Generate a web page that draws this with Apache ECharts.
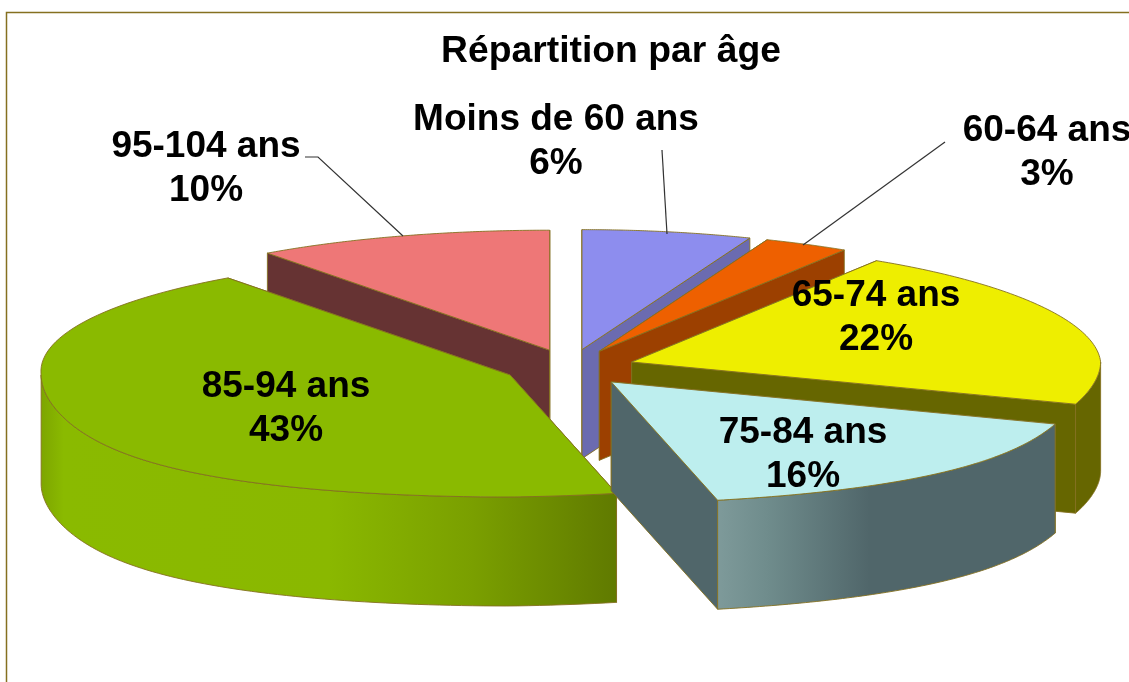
<!DOCTYPE html>
<html>
<head>
<meta charset="utf-8">
<title>Répartition par âge</title>
<script src="https://cdn.jsdelivr.net/npm/echarts@6/dist/echarts.min.js"></script>
<style>
  html, body { margin: 0; padding: 0; background: #fff; overflow: hidden; }
  #main { width: 1129px; height: 682px; }
</style>
</head>
<body>
<div id="main"></div>
<script>
const categories = ["Moins de 60 ans", "60-64 ans", "65-74 ans", "75-84 ans", "85-94 ans", "95-104 ans"];
const shares = [6, 3, 22, 16, 43, 10];

const topColors = ["#8d8dee", "#ee6000", "#eeee00", "#bdeeee", "#8aba00", "#ee7777"];
const wallColors = ["#6b6bb0", "#9c4000", "#666600", "#50666a", "#6f9500", "#663333"];

// only the two big front slices have a shaded rim
const rimStops = {
  3: [[0, "#7e9a9a"], [0.15, "#6f8c8c"], [0.45, "#50666a"], [1, "#50666a"]],
  4: [[0, "#7da500"], [0.04, "#8aba00"], [0.5, "#8ab800"], [0.75, "#7a9f00"], [1, "#607a00"]],
};

// label centres and leader lines, in page pixels
const labelCenters = [[556, 142], [1047, 153], [876, 318], [803, 455], [286, 409], [206, 169]];
const leaders = {
  0: [[662, 150], [667, 234]],
  1: [[945, 142], [803, 245]],
  5: [[305, 157], [318, 157], [403, 236]],
};

// pie geometry
const centerX = 569.8;
const centerY = 367.7;
const radiusX = 469;
const radiusY = 122;
const depth = 109;
const explodeX = 65;
const explodeY = 18.4;
const edgeColor = "#857020";
const fontStack = '"Liberation Sans", Arial, sans-serif';

const total = shares.reduce((a, b) => a + b, 0);

function sliceAngles(index) {
  const before = shares.slice(0, index).reduce((a, b) => a + b, 0);
  return [(before / total) * 2 * Math.PI, ((before + shares[index]) / total) * 2 * Math.PI];
}

// point on the rim, with a rough perspective: front wider, back skewed to the left
function rimPoint(apex, angle, drop) {
  const sin = Math.sin(angle);
  const cos = Math.cos(angle);
  const front = Math.max(-cos, 0);
  const back = Math.max(cos, 0);
  const widen = 1 + 0.22 * Math.pow(front, 2.5);
  return [
    apex[0] + radiusX * widen * sin - 14 * Math.abs(sin) * back,
    apex[1] - radiusY * cos + drop + 2 * back - 8 * front * Math.max(sin, 0),
  ];
}

function arcPoints(apex, start, end, drop) {
  const steps = 90;
  const points = [];
  for (let i = 0; i <= steps; i++) {
    points.push(rimPoint(apex, start + ((end - start) * i) / steps, drop));
  }
  return points;
}

function renderSlice(params, api) {
  const index = params.dataIndex;
  const share = api.value(0);
  const [start, end] = sliceAngles(index);
  const mid = (start + end) / 2;
  const apex = [centerX + explodeX * Math.sin(mid), centerY - explodeY * Math.cos(mid)];
  const apexLow = [apex[0], apex[1] + depth];

  // back slices first, so the front ones cover them
  const order = Math.round((1 - Math.cos(mid)) * 100);
  const edge = { stroke: edgeColor, lineWidth: 0.9 };

  const sideWall = (angle) => ({
    type: "polygon",
    z2: order,
    shape: { points: [apex, rimPoint(apex, angle, 0), rimPoint(apex, angle, depth), apexLow] },
    style: { fill: wallColors[index], ...edge },
  });

  const children = [sideWall(start), sideWall(end)];

  // the rim shows only on the front half of the ellipse
  const rimStart = Math.max(start, Math.PI / 2);
  const rimEnd = Math.min(end, (3 * Math.PI) / 2);
  if (rimStart < rimEnd) {
    let rimFill = wallColors[index];
    if (rimStops[index]) {
      rimFill = new echarts.graphic.LinearGradient(
        0, 0, 1, 0,
        rimStops[index].map(([offset, color]) => ({ offset, color }))
      );
    }
    children.push({
      type: "polygon",
      z2: order + 1,
      shape: {
        points: arcPoints(apex, rimStart, rimEnd, 0).concat(arcPoints(apex, rimStart, rimEnd, depth).reverse()),
      },
      style: { fill: rimFill, ...edge },
    });
  }

  children.push({
    type: "polygon",
    z2: order + 2,
    shape: { points: [apex].concat(arcPoints(apex, start, end, 0)) },
    style: { fill: topColors[index], ...edge },
  });

  children.push({
    type: "text",
    z2: 1000,
    style: {
      x: labelCenters[index][0],
      y: labelCenters[index][1],
      text: categories[index] + "\n" + share + "%",
      fill: "#000",
      fontFamily: fontStack,
      fontSize: 37,
      fontWeight: "bold",
      lineHeight: 44,
      align: "center",
      verticalAlign: "middle",
    },
  });

  if (leaders[index]) {
    children.push({
      type: "polyline",
      z2: 900,
      shape: { points: leaders[index] },
      style: { fill: null, stroke: "#333", lineWidth: 1.2 },
    });
  }

  return { type: "group", children };
}

const myChart = echarts.init(document.getElementById("main"));

myChart.setOption({
  backgroundColor: "#fff",
  animation: false,
  title: {
    text: "Répartition par âge",
    left: 606,
    top: 28,
    textAlign: "center",
    textStyle: { fontFamily: fontStack, fontSize: 37.3, fontWeight: "bold", color: "#000" },
  },
  graphic: [
    {
      type: "polyline",
      silent: true,
      shape: { points: [[6.5, 682], [6.5, 12.5], [1129, 12.5]] },
      style: { fill: null, stroke: "#857020", lineWidth: 1.5 },
    },
  ],
  series: [
    {
      type: "custom",
      coordinateSystem: "none",
      silent: true,
      data: shares.map((share) => [share]),
      renderItem: renderSlice,
    },
  ],
});
</script>
</body>
</html>
